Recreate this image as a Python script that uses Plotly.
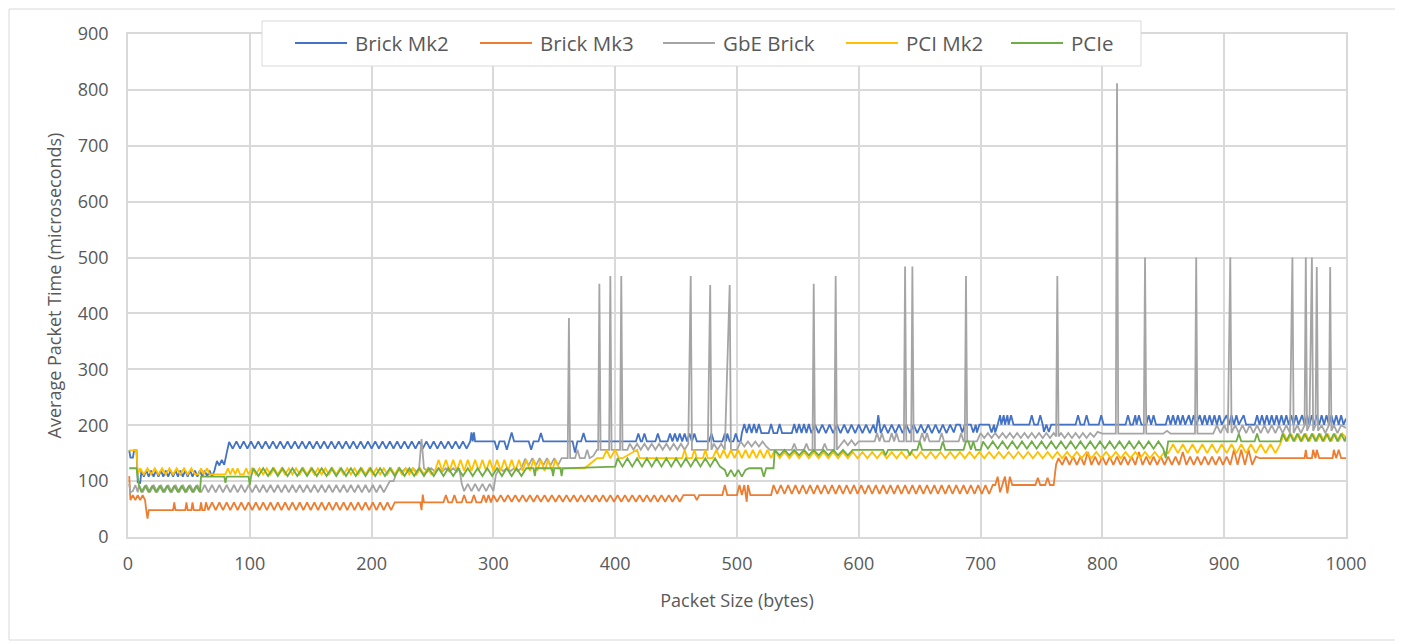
import plotly.graph_objects as go

# ---------------- data ----------------
# each series: (packet size in bytes, average packet time in microseconds)
mk2_pts = [
    (1, 155), (2, 142), (4, 142), (5, 155), (7, 155), (8, 98), (10, 97), (11, 118),
    (13, 108), (15, 119), (17, 108), (19, 119), (21, 108), (23, 119), (25, 108), (27, 119), (29, 108), (31, 119),
    (33, 108), (35, 119), (37, 108), (39, 119), (41, 108), (43, 119), (45, 108), (47, 119), (49, 108), (51, 119),
    (53, 108), (55, 119), (57, 108), (59, 119), (61, 108), (63, 119), (65, 108), (67, 119), (69, 108),
    (71, 119), (73, 136), (75, 128), (77, 138), (79, 129), (81, 150), (83, 170),
    (86, 158), (89, 171), (92, 158), (95, 171), (98, 158), (101, 171), (104, 158), (107, 171), (110, 158), (113, 171),
    (116, 158), (119, 171), (122, 158), (125, 171), (128, 158), (131, 171), (134, 158), (137, 171), (140, 158), (143, 171),
    (146, 158), (149, 171), (152, 158), (155, 171), (158, 158), (161, 171), (164, 158), (167, 171), (170, 158), (173, 171),
    (176, 158), (179, 171), (182, 158), (185, 171), (188, 158), (191, 171), (194, 158), (197, 171), (200, 158), (203, 171),
    (206, 158), (209, 171), (212, 158), (215, 171), (218, 158), (221, 171), (224, 158), (227, 171), (230, 158), (233, 171),
    (236, 158), (239, 171), (242, 158), (245, 171), (248, 158), (251, 171), (254, 158), (257, 171), (260, 158), (263, 171),
    (266, 158), (269, 171), (272, 158), (275, 171), (278, 158),
    (281, 171), (282, 187), (283, 171), (284, 187), (285, 171),
    (301, 171), (303, 156), (305, 171), (309, 171), (311, 156), (313, 171), (315, 187), (317, 171),
    (329, 171), (331, 156), (333, 171), (337, 171), (339, 186), (341, 171),
    (365, 171), (367, 151), (369, 171), (372, 171), (374, 186), (376, 171),
    (417, 171), (419, 185), (421, 171), (422, 171), (424, 185), (426, 171), (433, 171), (435, 185), (437, 171),
    (443, 171), (445, 185), (447, 171), (449, 185), (451, 171), (453, 185), (455, 171), (457, 185), (459, 171),
    (461, 185), (463, 171), (465, 185), (467, 171),
    (477, 171), (479, 185), (481, 171), (488, 171), (490, 185), (491, 171), (492, 185), (494, 171),
    (497, 171), (499, 185), (501, 171), (503, 171),
    (504, 186), (506, 202), (508, 186), (510, 202), (512, 186), (514, 202), (516, 186), (518, 202), (520, 186),
    (526, 186), (528, 202), (530, 186), (533, 186), (535, 202), (537, 186),
    (545, 186), (547, 202), (549, 186), (551, 202), (553, 186), (555, 202), (557, 186), (559, 202), (561, 186),
    (564, 201), (567, 186), (570, 201), (573, 186), (576, 201), (579, 186), (582, 201), (585, 186), (588, 201),
    (591, 186), (594, 201), (597, 186), (600, 201), (603, 186), (606, 201), (609, 186), (612, 201),
    (614, 186), (616, 218), (618, 186),
    (621, 201), (624, 186), (627, 201), (630, 186), (633, 201), (636, 186), (639, 201), (642, 186), (645, 201),
    (648, 186), (651, 201), (654, 186), (657, 201), (660, 186), (663, 201), (666, 186), (669, 201), (672, 186), (675, 201),
    (678, 187), (680, 201), (683, 201), (685, 187), (687, 201), (692, 201), (694, 187), (696, 201), (697, 187),
    (699, 201), (707, 201), (709, 187), (711, 201), (712, 187), (714, 201),
    (716, 218), (717, 201), (719, 218), (720, 201), (722, 218), (723, 201), (725, 218), (727, 201),
    (740, 201), (742, 218), (744, 201), (747, 201), (749, 218), (751, 201), (752, 188), (754, 201), (756, 188), (758, 201),
    (778, 201), (780, 218), (782, 201), (785, 201), (787, 218), (789, 201), (797, 201), (799, 218), (801, 201),
    (819, 201), (821, 218), (823, 201), (825, 201), (827, 218), (828, 201), (830, 218), (832, 201),
    (836, 201), (838, 218), (840, 201), (842, 218), (844, 201),
    (852, 201), (854, 218), (856, 201), (858, 218), (860, 201), (862, 218), (864, 201), (866, 218), (868, 201),
    (871, 218), (873, 201), (875, 218), (877, 201),
    (880, 218), (882, 201), (884, 218), (886, 201), (888, 218), (890, 201), (892, 218), (894, 201), (896, 218), (898, 201),
    (902, 218), (904, 201), (906, 218), (908, 201), (910, 218), (912, 201), (916, 218), (918, 201), (925, 201), (927, 218),
    (929, 201), (931, 218), (933, 201), (935, 218), (937, 201), (939, 218), (941, 201), (943, 218), (945, 201), (947, 218),
    (949, 201), (951, 218), (953, 201), (955, 218), (957, 201), (959, 218), (961, 201), (964, 218), (966, 201), (968, 218),
    (970, 201), (972, 218), (974, 201), (976, 218), (978, 201), (980, 218), (982, 201), (984, 218), (986, 201), (988, 218),
    (990, 201), (992, 218), (994, 201), (996, 218), (998, 201), (1000, 212),
]

mk3_pts = [
    (1, 109), (2, 66), (4, 75), (6, 66), (8, 75), (10, 66), (12, 75), (14, 66), (15, 48), (16, 33), (17, 48),
    (37, 48), (38, 62), (39, 48), (47, 48), (48, 62), (49, 48), (52, 48), (53, 62), (54, 48),
    (59, 48), (60, 62), (61, 48), (63, 48), (64, 62),
    (66, 48), (69, 62), (72, 48), (75, 62), (78, 48), (81, 62), (84, 48), (87, 62), (90, 48), (93, 62),
    (96, 48), (99, 62), (102, 48), (105, 62), (108, 48), (111, 62), (114, 48), (117, 62), (120, 48), (123, 62),
    (126, 48), (129, 62), (132, 48), (135, 62), (138, 48), (141, 62), (144, 48), (147, 62), (150, 48), (153, 62),
    (156, 48), (159, 62), (162, 48), (165, 62), (168, 48), (171, 62), (174, 48), (177, 62), (180, 48), (183, 62),
    (186, 48), (189, 62), (192, 48), (195, 62), (198, 48), (201, 62), (204, 48), (207, 62), (210, 48), (213, 62),
    (216, 48), (219, 62),
    (221, 62), (240, 62), (241, 48), (242, 76), (243, 62), (259, 62), (261, 75), (263, 62), (266, 62), (268, 75),
    (270, 62), (274, 62), (276, 75), (278, 62), (282, 62), (284, 75), (286, 62), (290, 62), (292, 75), (294, 62),
    (296, 75), (298, 62),
    (300, 75), (303, 63), (306, 75), (309, 63), (312, 75), (315, 63), (318, 75), (321, 63), (324, 75), (327, 63),
    (330, 75), (333, 63), (336, 75), (339, 63), (342, 75), (345, 63), (348, 75), (351, 63), (354, 75), (357, 63),
    (360, 75), (363, 63), (366, 75), (369, 63), (372, 75), (375, 63), (378, 75), (381, 63), (384, 75), (387, 63),
    (390, 75), (393, 63), (396, 75), (399, 63), (402, 75), (405, 63), (408, 75), (411, 63), (414, 75), (417, 63),
    (420, 75), (423, 63), (426, 75), (429, 63), (432, 75), (435, 63), (438, 75), (441, 63), (444, 75), (447, 63),
    (450, 75), (453, 63), (456, 75),
    (465, 75), (467, 66), (469, 75), (488, 75), (490, 93), (492, 75), (500, 75), (502, 93), (504, 75), (506, 93),
    (507, 75), (508, 63), (509, 93), (511, 75), (528, 75),
    (530, 93), (533, 77), (536, 93), (539, 77), (542, 93), (545, 77), (548, 93), (551, 77), (554, 93), (557, 77),
    (560, 93), (563, 77), (566, 93), (569, 77), (572, 93), (575, 77), (578, 93), (581, 77), (584, 93), (587, 77),
    (590, 93), (593, 77), (596, 93), (599, 77), (602, 93), (605, 77), (608, 93), (611, 77), (614, 93), (617, 77),
    (620, 93), (623, 77), (626, 93), (629, 77), (632, 93), (635, 77), (638, 93), (641, 77), (644, 93), (647, 77),
    (650, 93), (653, 77), (656, 93), (659, 77), (662, 93), (665, 77), (668, 93), (671, 77), (674, 93), (677, 77),
    (680, 93), (683, 77), (686, 93), (689, 77), (692, 93), (695, 77), (698, 93), (701, 77), (704, 93), (707, 77),
    (710, 93),
    (712, 93), (714, 108), (716, 80), (718, 93), (720, 108), (721, 93), (722, 78), (724, 108), (726, 93),
    (745, 93), (747, 106), (749, 93), (753, 93), (755, 106), (757, 93), (760, 93), (762, 130), (764, 141),
    (767, 129), (770, 144), (773, 129), (776, 144), (779, 129), (782, 144), (785, 129), (788, 152), (791, 129), (794, 144),
    (797, 129), (800, 144), (803, 129), (806, 144), (809, 129), (812, 144), (815, 129), (818, 144), (821, 129), (824, 144),
    (827, 129), (830, 152), (833, 129), (836, 144), (839, 129), (842, 144), (845, 129), (848, 144), (851, 129), (854, 144),
    (857, 129), (860, 144), (863, 129), (866, 152), (869, 129), (872, 144), (875, 129), (878, 144), (881, 129), (884, 144),
    (887, 129), (890, 144), (893, 129), (896, 144), (899, 129), (902, 144), (905, 129), (908, 156), (911, 129), (914, 156),
    (917, 129), (920, 156), (923, 129), (926, 144),
    (929, 141), (966, 141), (967, 156), (968, 141), (972, 141), (973, 156), (975, 141), (976, 156), (978, 141),
    (989, 141), (990, 156), (992, 141), (994, 156), (996, 141), (1000, 141),
]

gbe_pts = [
    (1, 95), (2, 80), (4, 82), (6, 93), (8, 80),
    (9, 93), (12, 80), (15, 93), (18, 80), (21, 93), (24, 80), (27, 93), (30, 80), (33, 93), (36, 80),
    (39, 93), (42, 80), (45, 93), (48, 80), (51, 93), (54, 80), (57, 93), (60, 80), (63, 93), (66, 80),
    (69, 93), (72, 80), (75, 93), (78, 80), (81, 93), (84, 80), (87, 93), (90, 80), (93, 93), (96, 80),
    (99, 93), (102, 80), (105, 93), (108, 80), (111, 93), (114, 80), (117, 93), (120, 80), (123, 93), (126, 80),
    (129, 93), (132, 80), (135, 93), (138, 80), (141, 93), (144, 80), (147, 93), (150, 80), (153, 93), (156, 80),
    (159, 93), (162, 80), (165, 93), (168, 80), (171, 93), (174, 80), (177, 93), (180, 80), (183, 93), (186, 80),
    (189, 93), (192, 80), (195, 93), (198, 80), (201, 93), (204, 80), (207, 93), (210, 80),
    (213, 93), (215, 100), (218, 100), (220, 112), (222, 123), (225, 117), (228, 123), (231, 117), (234, 123),
    (237, 117), (239, 123), (241, 175), (243, 123), (246, 117), (249, 123), (252, 117), (255, 123), (258, 117),
    (261, 123), (264, 117), (267, 123), (270, 117), (272, 123),
    (274, 95), (276, 82), (279, 95), (282, 82), (285, 95), (288, 82), (291, 95), (294, 82), (297, 95), (300, 82),
    (302, 111), (305, 123), (308, 118), (311, 123), (314, 118), (317, 123), (320, 118), (323, 123),
    (326, 140), (329, 128), (332, 141), (335, 128), (338, 141), (341, 128), (344, 141), (347, 128), (350, 141),
    (353, 128), (356, 141), (361, 141), (362, 392), (363, 141), (367, 141), (369, 156), (371, 141),
    (375, 141), (377, 156), (379, 141), (382, 145), (385, 156), (386, 156), (387, 453), (388, 156),
    (395, 156), (396, 467), (397, 156), (404, 156), (405, 467), (406, 156), (410, 156),
    (412, 167), (415, 156), (418, 167), (421, 156), (424, 167), (427, 156), (430, 167), (433, 156), (436, 167),
    (439, 156), (442, 167), (445, 156), (448, 167), (451, 156), (454, 167), (457, 156), (460, 167),
    (462, 467), (463, 156), (470, 156), (476, 156), (478, 451), (479, 156), (481, 167), (484, 156), (487, 167),
    (490, 156), (494, 451), (495, 156), (500, 156),
    (503, 171), (506, 162), (509, 171), (512, 162), (515, 171), (518, 162), (521, 171), (524, 162), (527, 156),
    (545, 156), (547, 167), (549, 156), (555, 156), (557, 167), (559, 156), (562, 156), (563, 453), (564, 156),
    (570, 156), (572, 167), (574, 156), (580, 156), (581, 467), (582, 156),
    (585, 164), (588, 173), (591, 164), (594, 173), (597, 164), (600, 171),
    (613, 171), (615, 186), (617, 171), (619, 186), (621, 171), (625, 171), (627, 186), (629, 171), (631, 186),
    (633, 171), (637, 171), (638, 484), (639, 171), (643, 171), (644, 484), (645, 171),
    (650, 171), (652, 186), (654, 171), (656, 186), (658, 171), (666, 171), (668, 186), (670, 171),
    (682, 171), (684, 186), (686, 171), (687, 171), (688, 467), (689, 171), (697, 171),
    (700, 186), (703, 177), (706, 186), (709, 177), (712, 186), (715, 177), (718, 186), (721, 177), (724, 186), (727, 177),
    (730, 186), (733, 177), (736, 186), (739, 177), (742, 186), (745, 177), (748, 186), (751, 177), (754, 186), (757, 177),
    (760, 186), (762, 180), (763, 467), (764, 180), (766, 186), (769, 177), (772, 186), (775, 177), (778, 186), (781, 177),
    (784, 186), (787, 177), (790, 186), (793, 179), (796, 188), (800, 185),
    (811, 185), (812, 812), (813, 185), (834, 185), (835, 500), (836, 185), (850, 185), (853, 190), (856, 185),
    (876, 185), (877, 500), (878, 185),
    (891, 185), (894, 200), (897, 186), (900, 200), (903, 186), (905, 500), (906, 186),
    (909, 200), (912, 186), (915, 200), (918, 186), (921, 200), (924, 186), (927, 200), (930, 186),
    (933, 200), (936, 186), (939, 200), (942, 186), (945, 200), (948, 186), (951, 200), (954, 186),
    (956, 500), (957, 186), (960, 200), (963, 186), (966, 200), (967, 500), (968, 190), (970, 200),
    (972, 500), (973, 190), (975, 200), (976, 483), (977, 190),
    (980, 200), (983, 186), (986, 200), (987, 483), (988, 190), (990, 200), (993, 186), (996, 200), (1000, 195),
]

pci_pts = [
    (1, 155), (7, 155), (8, 112), (10, 123), (13, 112), (16, 123), (19, 112), (22, 123), (25, 112), (28, 123),
    (31, 112), (34, 123), (37, 112), (40, 123), (43, 112), (46, 123), (49, 112), (52, 123), (55, 112),
    (58, 112), (60, 123), (62, 112), (65, 123), (67, 112), (70, 112), (80, 112), (82, 123), (84, 112), (86, 123),
    (88, 112), (90, 123), (92, 112), (95, 112), (97, 123), (99, 112),
    (102, 123), (105, 112), (108, 123), (111, 112), (114, 123), (117, 112), (120, 123), (123, 112), (126, 123), (129, 112),
    (132, 123), (135, 112), (138, 123), (141, 112), (144, 123), (147, 112), (150, 123), (153, 112), (156, 123), (159, 112),
    (162, 123), (165, 112), (168, 123), (171, 112), (174, 123), (177, 112), (180, 123), (183, 112), (186, 123), (189, 112),
    (192, 123), (195, 112), (198, 123), (201, 112), (204, 123), (207, 112), (210, 123), (213, 112), (216, 123), (219, 112),
    (222, 123), (225, 112), (228, 123), (231, 112), (234, 123), (237, 112), (240, 123), (243, 112), (246, 123), (249, 112),
    (252, 118), (255, 138), (258, 118), (261, 138), (264, 118), (267, 138), (270, 118), (273, 138), (276, 118), (279, 138),
    (282, 118), (285, 138), (288, 118), (291, 138), (294, 118), (297, 138), (300, 118), (303, 138), (306, 118), (309, 138),
    (312, 118), (315, 138), (318, 118), (321, 138), (324, 118), (327, 138), (330, 118),
    (333, 138), (336, 118), (339, 138), (342, 118), (345, 138), (348, 118), (351, 138), (354, 123), (370, 123),
    (375, 123), (385, 141), (390, 141), (393, 156), (396, 141), (400, 156), (403, 141), (406, 141), (418, 156), (420, 141),
    (455, 141), (457, 156), (459, 141), (463, 141), (465, 156), (467, 141), (472, 141), (474, 156), (476, 141), (480, 141),
    (483, 156), (486, 141), (489, 156), (492, 141), (495, 156), (498, 141), (501, 156), (504, 141), (507, 156), (510, 141),
    (513, 156), (516, 141), (519, 156), (522, 141), (525, 156), (528, 141), (531, 156),
    (535, 141), (539, 152), (543, 141), (547, 152), (551, 141), (555, 152), (559, 141), (563, 152), (567, 141), (571, 152),
    (575, 141), (579, 152), (583, 141), (587, 152), (591, 141), (595, 152), (599, 141), (603, 152), (607, 141), (611, 152),
    (615, 141), (619, 152), (623, 141), (627, 152), (631, 141), (635, 152), (639, 141), (643, 152), (647, 141), (651, 152),
    (655, 141), (659, 152), (663, 141), (667, 152), (671, 141), (675, 152), (679, 141), (683, 152), (687, 141), (691, 152),
    (695, 141), (699, 152), (703, 141), (707, 152), (711, 141), (715, 152), (719, 141), (723, 152), (727, 141), (731, 152),
    (735, 141), (739, 152), (743, 141), (747, 152), (751, 141), (755, 152), (759, 141), (763, 152), (767, 141), (771, 152),
    (775, 141), (779, 152), (783, 141), (787, 152), (791, 141), (795, 152), (799, 141), (803, 152), (807, 141), (811, 152),
    (815, 141), (819, 152), (823, 141), (827, 152), (831, 141), (835, 152), (839, 141), (843, 152), (847, 141), (851, 152),
    (854, 150), (858, 166), (862, 150), (866, 166), (870, 150), (874, 166), (878, 150), (882, 166), (886, 150), (890, 166),
    (894, 150), (898, 166), (902, 150), (906, 166), (910, 150), (914, 166), (918, 150), (922, 166), (926, 150), (930, 166),
    (934, 150), (938, 166), (942, 150), (946, 166),
    (949, 185), (952, 171), (955, 185), (958, 171), (961, 185), (964, 171), (967, 185), (970, 171), (973, 185), (976, 171),
    (979, 185), (982, 171), (985, 185), (988, 171), (991, 185), (994, 171), (997, 185), (1000, 178),
]

pcie_pts = [
    (1, 123), (7, 123), (9, 92),
    (11, 80), (14, 92), (17, 80), (20, 92), (23, 80), (26, 92), (29, 80), (32, 92), (35, 80), (38, 92),
    (41, 80), (44, 92), (47, 80), (50, 92), (53, 80), (56, 92), (59, 80),
    (60, 108), (79, 108), (80, 97), (81, 108), (99, 108), (100, 93), (101, 108),
    (103, 123), (107, 109), (111, 123), (115, 109), (119, 123), (123, 109), (127, 123), (131, 109), (135, 123), (139, 109),
    (143, 123), (147, 109), (151, 123), (155, 109), (159, 123), (163, 109), (167, 123), (171, 109), (175, 123), (179, 109),
    (183, 123), (187, 109), (191, 123), (195, 109), (199, 123), (203, 109), (207, 123), (211, 109), (215, 123), (219, 109),
    (223, 123), (227, 109), (231, 123), (235, 109), (239, 123), (243, 109), (247, 123), (251, 109), (255, 123), (259, 109),
    (263, 123), (267, 109), (271, 123), (275, 109), (279, 123), (283, 109), (287, 123), (291, 109), (295, 123), (299, 109),
    (303, 123), (307, 109), (311, 123), (315, 109), (319, 123), (323, 109),
    (327, 123), (333, 123), (334, 109), (335, 123), (348, 123), (349, 109), (350, 123), (355, 123), (356, 109),
    (357, 123), (400, 126),
    (402, 141), (406, 126), (410, 141), (414, 126), (418, 141), (422, 126), (426, 141), (430, 126), (434, 141), (438, 126),
    (442, 141), (446, 126), (450, 141), (454, 126), (458, 141), (462, 126), (466, 141), (470, 126), (474, 141), (478, 126),
    (482, 141), (486, 126),
    (490, 120), (492, 108), (495, 120), (498, 108), (501, 120), (504, 108), (507, 120), (510, 123), (520, 123),
    (522, 108), (524, 123), (530, 123), (531, 156),
    (535, 146), (539, 156), (543, 146), (547, 156), (551, 146), (555, 156), (559, 146), (563, 156), (567, 146), (571, 156),
    (575, 146), (579, 156), (583, 146), (587, 156), (591, 146),
    (595, 156), (620, 156), (622, 146), (624, 156), (640, 156), (642, 146), (644, 156), (648, 156), (650, 171),
    (652, 156), (667, 156), (669, 171), (671, 156), (686, 156), (688, 171), (690, 171), (692, 156), (694, 171),
    (696, 156), (700, 156),
    (702, 171), (706, 158), (710, 171), (714, 158), (718, 171), (722, 158), (726, 171), (730, 158), (734, 171), (738, 158),
    (742, 171), (746, 158), (750, 171), (754, 158), (758, 171), (762, 158), (766, 171), (770, 158), (774, 171), (778, 158),
    (782, 171), (786, 158), (790, 171), (794, 158), (798, 171), (802, 158), (806, 171), (810, 158), (814, 171), (818, 158),
    (822, 171), (826, 158), (830, 171), (834, 158), (838, 171), (842, 158), (846, 171), (850, 158),
    (852, 141), (854, 171), (856, 171), (908, 171), (910, 171), (912, 185), (914, 171), (925, 171), (927, 185),
    (929, 171), (946, 171), (948, 185),
    (951, 171), (954, 185), (957, 171), (960, 185), (963, 171), (966, 185), (969, 171), (972, 185), (975, 171), (978, 185),
    (981, 171), (984, 185), (987, 171), (990, 185), (993, 171), (996, 185), (999, 171), (1000, 180),
]

series_names = ["Brick Mk2", "Brick Mk3", "GbE Brick", "PCI Mk2", "PCIe"]
series_colors = ["#4472C4", "#ED7D31", "#A5A5A5", "#FFC000", "#70AD47"]
x_ticks = [0, 100, 200, 300, 400, 500, 600, 700, 800, 900, 1000]
y_ticks = [0, 100, 200, 300, 400, 500, 600, 700, 800, 900]

series_pts = [mk2_pts, mk3_pts, gbe_pts, pci_pts, pcie_pts]

# ---------------- figure ----------------
FONT = "Open Sans, Segoe UI, sans-serif"
TXT = "#595959"
GRID = "#d9d9d9"

fig = go.Figure()
for n, pts, c in zip(series_names, series_pts, series_colors):
    fig.add_trace(go.Scatter(x=[p[0] for p in pts], y=[p[1] for p in pts], mode="lines", name=n,
                             line=dict(color=c, width=1.8), showlegend=False))

# the page body has an 8px margin, so the figure is laid out 8px smaller
OFF = 8
W, H = 1403 - OFF, 644 - OFF
PL, PR, PT, PB = 128, 1346, 34, 537          # plot area in screen pixels
L, T = PL - OFF, PT - OFF
R, B = W - (PR - OFF), H - (PB - OFF)
pw, ph = PR - PL, PB - PT


def px_x(p):
    return (p - PL) / pw


def px_y(p):
    return (PB - p) / ph


shapes = [
    dict(type="rect", xref="paper", yref="paper", x0=px_x(9), x1=px_x(1398), y0=px_y(640), y1=px_y(9),
         line=dict(color=GRID, width=1), fillcolor="rgba(0,0,0,0)", layer="below"),
    dict(type="rect", xref="paper", yref="paper", x0=px_x(262), x1=px_x(1141), y0=px_y(66), y1=px_y(21),
         line=dict(color=GRID, width=1), fillcolor="white", layer="above"),
]
annotations = []
legend_text_x = [353, 538, 721, 904, 1069]
for n, c, tx in zip(series_names, series_colors, legend_text_x):
    shapes.append(dict(type="line", xref="paper", yref="paper", x0=px_x(tx - 58), x1=px_x(tx - 6),
                       y0=px_y(43), y1=px_y(43), line=dict(color=c, width=2), layer="above"))
    annotations.append(dict(xref="paper", yref="paper", x=px_x(tx), y=px_y(43), xanchor="left",
                            yanchor="middle", text=n, showarrow=False,
                            font=dict(size=20.5, color=TXT, family=FONT)))

fig.update_layout(
    width=W, height=H,
    margin=dict(l=L, r=R, t=T, b=B, autoexpand=False),
    paper_bgcolor="white", plot_bgcolor="white",
    font=dict(family=FONT, color=TXT, size=18),
    showlegend=False,
    xaxis=dict(range=[0, 1000], tickvals=x_ticks, showgrid=True, gridcolor=GRID, gridwidth=1.5,
               zeroline=False, showline=True, linecolor=GRID, linewidth=1.5, mirror=True,
               ticks="outside", ticklen=10, tickcolor="rgba(0,0,0,0)",
               tickfont=dict(size=18, color=TXT),
               title=dict(text="Packet Size (bytes)", font=dict(size=18, color=TXT), standoff=20)),
    yaxis=dict(range=[0, 900], tickvals=y_ticks, showgrid=True, gridcolor=GRID, gridwidth=1.5,
               zeroline=False, showline=True, linecolor=GRID, linewidth=1.5, mirror=True,
               ticks="outside", ticklen=14, tickcolor="rgba(0,0,0,0)",
               tickfont=dict(size=18, color=TXT),
               title=dict(text="Average Packet Time (microseconds)", font=dict(size=18, color=TXT), standoff=11)),
    shapes=shapes,
    annotations=annotations,
)

fig.write_html("out.html")
